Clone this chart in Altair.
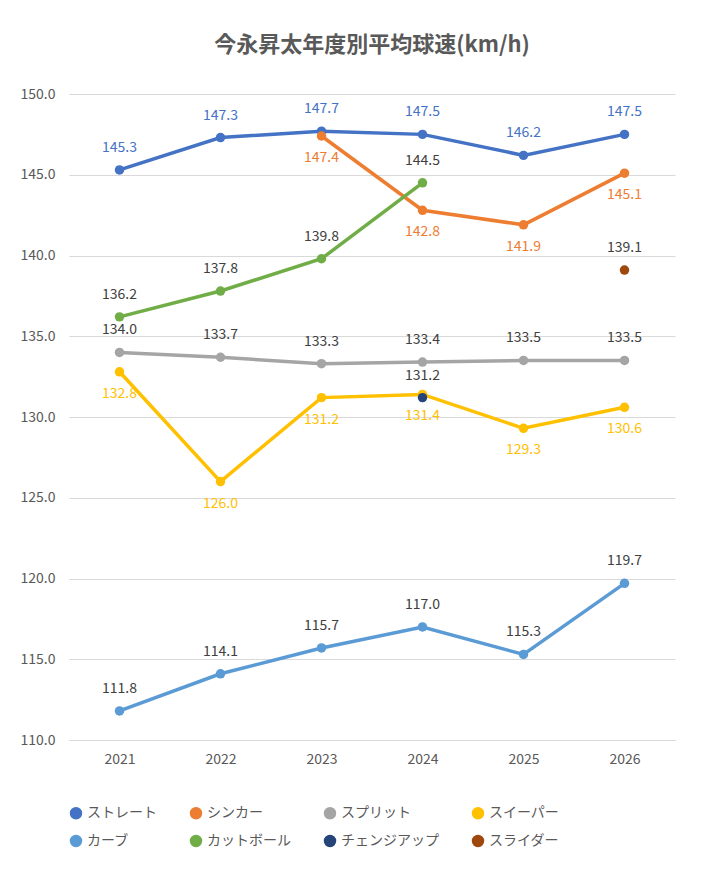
import altair as alt
import pandas as pd

years = [2021, 2022, 2023, 2024, 2025, 2026]
series = ["ストレート", "シンカー", "スプリット", "スイーパー", "カーブ", "カットボール", "チェンジアップ", "スライダー"]
colors = ["#4472C4", "#ED7D31", "#A5A5A5", "#FFC000", "#5B9BD5", "#70AD47", "#264478", "#9E480E"]
label_colors = ["#4472C4", "#ED7D31", "#404040", "#FFC000", "#404040", "#404040", "#404040", "#404040"]
label_above = [True, False, True, False, True, True, True, True]

values = {
    "ストレート": [145.3, 147.3, 147.7, 147.5, 146.2, 147.5],
    "シンカー": [None, None, 147.4, 142.8, 141.9, 145.1],
    "スプリット": [134.0, 133.7, 133.3, 133.4, 133.5, 133.5],
    "スイーパー": [132.8, 126.0, 131.2, 131.4, 129.3, 130.6],
    "カーブ": [111.8, 114.1, 115.7, 117.0, 115.3, 119.7],
    "カットボール": [136.2, 137.8, 139.8, 144.5, None, None],
    "チェンジアップ": [None, None, None, 131.2, None, None],
    "スライダー": [None, None, None, None, None, 139.1],
}

rows = []
for i, s in enumerate(series):
    for y, v in zip(years, values[s]):
        if v is not None:
            rows.append({"year": str(y), "speed": v, "series": s,
                         "lc": label_colors[i], "above": label_above[i]})
df = pd.DataFrame(rows)

font = "Noto Sans CJK JP"
x = alt.X("year:O", title=None, scale=alt.Scale(paddingInner=0, paddingOuter=0.5),
          axis=alt.Axis(labelAngle=0, ticks=False, domainColor="#D9D9D9", labelColor="#595959",
                        labelFontSize=14, labelPadding=12, grid=False))
y = alt.Y("speed:Q", title=None,
          scale=alt.Scale(domain=[110, 150], nice=False, zero=False),
          axis=alt.Axis(values=[110, 115, 120, 125, 130, 135, 140, 145, 150], format=".1f",
                        domain=False, ticks=False, gridColor="#D9D9D9", labelColor="#595959",
                        labelFontSize=14, labelPadding=14))
color = alt.Color("series:N", scale=alt.Scale(domain=series, range=colors), title=None,
                  legend=alt.Legend(orient="bottom", columns=4, symbolType="circle",
                                    labelFontSize=14, labelColor="#595959", symbolSize=120,
                                    columnPadding=30, rowPadding=10, labelLimit=200, offset=40))

base = alt.Chart(df)
lines = base.mark_line(strokeWidth=3.5).encode(x=x, y=y, color=color, detail="series:N")
points = base.mark_circle(size=90, opacity=1).encode(x=x, y=y, color=color)
above = base.transform_filter("datum.above").mark_text(dy=-22, fontSize=14, font=font).encode(
    x=x, y=y, text=alt.Text("speed:Q", format=".1f"), color=alt.Color("lc:N", scale=None))
below = base.transform_filter("!datum.above").mark_text(dy=22, fontSize=14, font=font).encode(
    x=x, y=y, text=alt.Text("speed:Q", format=".1f"), color=alt.Color("lc:N", scale=None))

chart = (lines + points + above + below).properties(
    width=606, height=646,
    padding={"top": 26, "left": 12, "right": 20, "bottom": 5},
    title=alt.TitleParams("今永昇太年度別平均球速(km/h)", fontSize=22, color="#595959",
                          font=font, fontWeight="bold", offset=30),
).configure(font=font).configure_view(stroke=None, strokeWidth=0)

chart.save("out.html", embed_options={"renderer": "svg", "actions": False})
